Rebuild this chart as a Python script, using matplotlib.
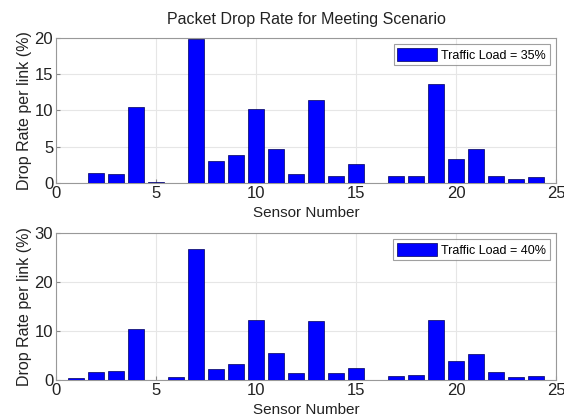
import numpy as np
import matplotlib
matplotlib.use("Agg")
from matplotlib import pyplot as plt

plt.rcParams["font.family"] = ["Liberation Sans", "DejaVu Sans"]

sensors = list(range(1, 25))
drop_35 = [0, 1.4, 1.2, 10.5, 0.2, 0, 19.8, 3.0, 3.8, 10.2, 4.7, 1.2,
           11.4, 0.9, 2.6, 0, 0.9, 0.9, 13.6, 3.3, 4.7, 1.0, 0.6, 0.8]
drop_40 = [0.5, 1.7, 1.8, 10.4, 0, 0.6, 26.8, 2.2, 3.2, 12.2, 5.6, 1.4,
           12.0, 1.4, 2.4, 0, 0.8, 1.0, 12.2, 3.8, 5.4, 1.7, 0.6, 0.8]
labels = ["Traffic Load = 35%", "Traffic Load = 40%"]
ylims = [20, 30]
yticks = [[0, 5, 10, 15, 20], [0, 10, 20, 30]]

fig = plt.figure(figsize=(5.64, 4.19), dpi=100)
ax1 = fig.add_axes([0.0993, 0.5633, 0.8865, 0.346])
ax2 = fig.add_axes([0.0993, 0.0931, 0.8865, 0.351])

for ax, vals, lab, ylim, yt in zip([ax1, ax2], [drop_35, drop_40], labels, ylims, yticks):
    ax.bar(sensors, vals, width=0.8, color="#0000ff", edgecolor="#00005a",
           linewidth=0.5, label=lab, zorder=3)
    ax.set_xlim(0, 25)
    ax.set_ylim(0, ylim)
    ax.set_xticks([0, 5, 10, 15, 20, 25])
    ax.set_yticks(yt)
    ax.grid(True, color="#e6e6e6", linewidth=0.8, zorder=0)
    ax.tick_params(direction="in", length=3, labelsize=12, color="#888888",
                   labelcolor="#222222", pad=2)
    for s in ax.spines.values():
        s.set_color("#999999")
        s.set_linewidth(0.8)
    ax.set_xlabel("Sensor Number", fontsize=11, labelpad=4, color="#222222")
    ax.set_ylabel("Drop Rate per link (%)", fontsize=11.5, labelpad=2, color="#222222")
    leg = ax.legend(loc="upper right", fontsize=9, fancybox=False,
                    borderaxespad=0.5, handlelength=3.2, handleheight=1.2,
                    handletextpad=0.3, borderpad=0.3)
    leg.get_frame().set_edgecolor("#888888")
    leg.get_frame().set_linewidth(0.8)

ax1.set_title("Packet Drop Rate for Meeting Scenario", fontsize=11.5, pad=10,
              color="#222222")

fig.savefig("out.png", dpi=100)
